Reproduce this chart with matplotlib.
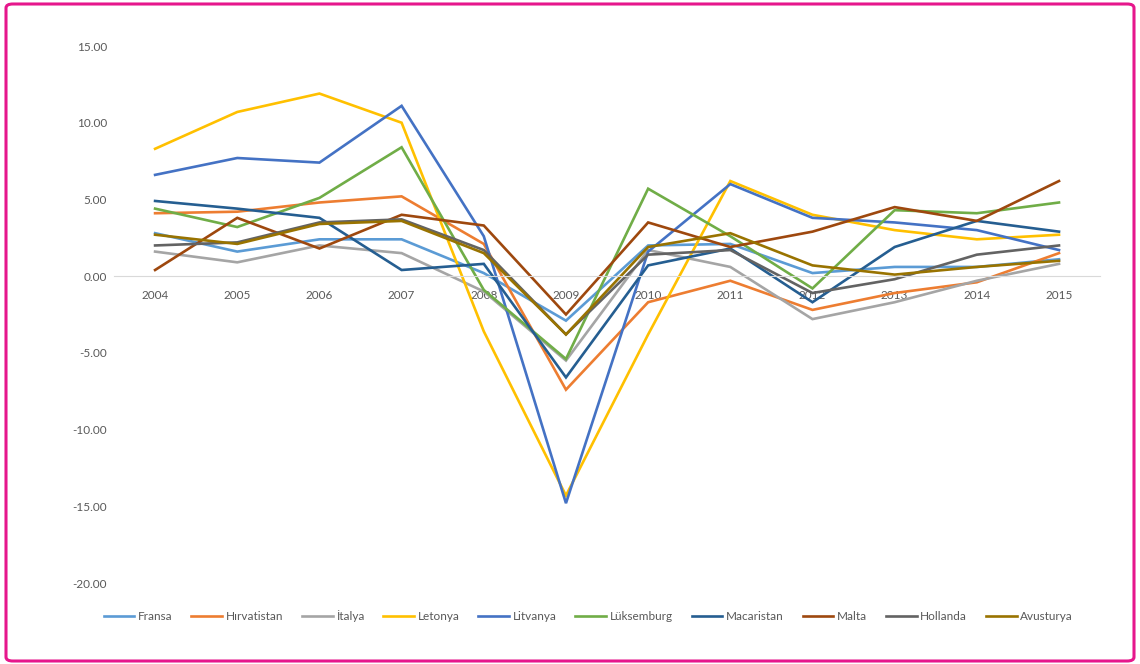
import matplotlib.pyplot as plt
from matplotlib.patches import FancyBboxPatch

years = ['2004', '2005', '2006', '2007', '2008', '2009',
         '2010', '2011', '2012', '2013', '2014', '2015']

fransa = [2.8, 1.6, 2.4, 2.4, 0.2, -2.9, 2.0, 2.1, 0.2, 0.6, 0.6, 1.1]
hirvatistan = [4.1, 4.2, 4.8, 5.2, 2.1, -7.4, -1.7, -0.3, -2.2, -1.1, -0.4, 1.5]
italya = [1.6, 0.9, 2.0, 1.5, -1.0, -5.5, 1.7, 0.6, -2.8, -1.7, -0.3, 0.8]
letonya = [8.3, 10.7, 11.9, 10.0, -3.6, -14.3, -3.8, 6.2, 4.0, 3.0, 2.4, 2.7]
litvanya = [6.6, 7.7, 7.4, 11.1, 2.6, -14.8, 1.6, 6.0, 3.8, 3.5, 3.0, 1.7]
luksemburg = [4.4, 3.2, 5.1, 8.4, -0.9, -5.4, 5.7, 2.6, -0.8, 4.3, 4.1, 4.8]
macaristan = [4.9, 4.4, 3.8, 0.4, 0.8, -6.6, 0.7, 1.8, -1.7, 1.9, 3.6, 2.9]
malta = [0.4, 3.8, 1.8, 4.0, 3.3, -2.5, 3.5, 1.9, 2.9, 4.5, 3.6, 6.2]
hollanda = [2.0, 2.2, 3.5, 3.7, 1.7, -3.8, 1.4, 1.7, -1.1, -0.2, 1.4, 2.0]
avusturya = [2.7, 2.1, 3.4, 3.6, 1.5, -3.8, 1.9, 2.8, 0.7, 0.1, 0.6, 1.0]

series = [
    ('Fransa', fransa, '#5B9BD5'),
    ('Hırvatistan', hirvatistan, '#ED7D31'),
    ('İtalya', italya, '#A5A5A5'),
    ('Letonya', letonya, '#FFC000'),
    ('Litvanya', litvanya, '#4472C4'),
    ('Lüksemburg', luksemburg, '#70AD47'),
    ('Macaristan', macaristan, '#255E91'),
    ('Malta', malta, '#9E480E'),
    ('Hollanda', hollanda, '#636363'),
    ('Avusturya', avusturya, '#997300'),
]

plt.rcParams['font.family'] = ['Lato', 'DejaVu Sans']

fig = plt.figure(figsize=(11.4, 6.64), dpi=100)
ax = fig.add_axes([0.1, 1 - 583 / 664, 0.865, (583 - 46) / 664])

x = range(len(years))
for name, vals, col in series:
    ax.plot(x, vals, color=col, lw=1.9, label=name, solid_joinstyle='miter')

ax.set_xlim(-0.5, len(years) - 0.5)
ax.set_ylim(-20, 15)
ax.set_yticks(range(-20, 16, 5))
ax.yaxis.set_major_formatter(lambda v, p: f'{v:.2f}')
ax.set_xticks(list(x))
ax.set_xticklabels(years)

for s in ['top', 'right', 'left']:
    ax.spines[s].set_visible(False)
ax.spines['bottom'].set_position(('data', 0))
ax.spines['bottom'].set_color('#D9D9D9')
ax.spines['bottom'].set_linewidth(0.8)
ax.tick_params(axis='both', length=0, labelsize=8.5, labelcolor='#595959')
ax.tick_params(axis='x', pad=10)
ax.tick_params(axis='y', pad=5)

fig.legend(loc='center', bbox_to_anchor=(0.516, 1 - 616 / 664), ncol=10,
           frameon=False, fontsize=8.5, handlelength=2.6, handletextpad=0.3,
           columnspacing=1.6, labelcolor='#595959')

frame = FancyBboxPatch((6 / 1140, 3 / 664), 1128 / 1140, 657 / 664,
                       boxstyle='round,pad=0,rounding_size=0.006',
                       transform=fig.transFigure, fill=False,
                       edgecolor='#E6178C', lw=2.2)
fig.patches.append(frame)

fig.savefig('out.png', dpi=100)
